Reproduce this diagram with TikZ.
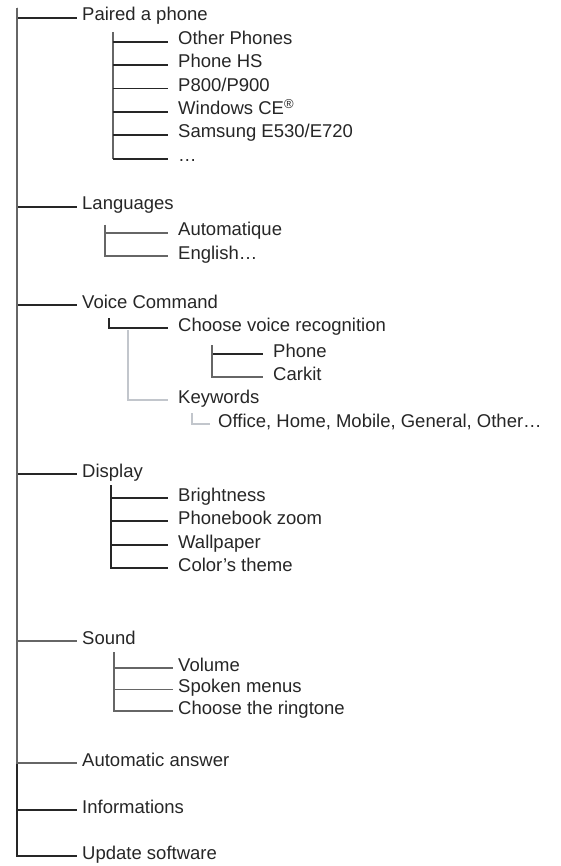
\documentclass[tikz,border=0pt]{standalone}
\usepackage{fontspec}
\setmainfont{Liberation Sans}
\definecolor{pale}{HTML}{C2C6CC}
\tikzset{
  item/.style={anchor=base west, inner xsep=10pt, inner ysep=0pt,
    text height=10pt, text depth=4pt, text=black!85,
    font=\fontsize{18.5}{20}\selectfont},
  head/.style={item, inner xsep=5pt},
  near/.style={item, inner xsep=5pt},
  link/.style={draw=black!85, line width=1.1pt},
  linkgrey/.style={draw=black!60, line width=1.1pt},
  linkpale/.style={draw=pale, line width=1.6pt}
}
\begin{document}
\begin{tikzpicture}[x=1pt,y=-1pt]
    \useasboundingbox (0,0) rectangle (560,866);
    % main menu
    \coordinate (root) at (17,8);
    \node[head] (paired) at (77,21) {Paired a phone};
    \node[head] (lang) at (77,210) {Languages};
    \node[head] (voice) at (77,308) {Voice Command};
    \node[head] (disp) at (77,477) {Display};
    \node[head] (sound) at (77,644) {Sound};
    \node[head] (autoans) at (77,766) {Automatic answer};
    \node[head] (info) at (77,813) {Informations};
    \node[head] (upd) at (77,859) {Update software};
    % paired a phone
    \coordinate (pairedsub) at (113,32);
    \node[item] (other) at (168,45) {Other Phones};
    \node[item] (phs) at (168,68) {Phone HS};
    \node[item] (p800) at (168,91.5) {P800/P900};
    \node[item] (wince) at (168,115) {Windows CE\textsuperscript{®}};
    \node[item] (samsung) at (168,138) {Samsung E530/E720};
    \node[item] (more) at (168,162) {…};
    % languages
    \coordinate (langsub) at (105,225);
    \node[item] (autom) at (168,236) {Automatique};
    \node[item] (english) at (168,259) {English…};
    % voice command
    \coordinate (choosesub) at (109,318);
    \node[item] (choose) at (168,331) {Choose voice recognition};
    \coordinate (phonesub) at (212,345);
    \node[item] (phone) at (263,357) {Phone};
    \node[item] (carkit) at (263,380) {Carkit};
    \coordinate (keysub) at (128,330);
    \node[item] (keyw) at (168,403) {Keywords};
    \coordinate (officesub) at (192,413);
    \node[item, inner xsep=8pt] (office) at (210,427) {Office, Home, Mobile, General, Other…};
    % display
    \coordinate (dispsub) at (111,485);
    \node[item] (bright) at (168,501) {Brightness};
    \node[item] (pbzoom) at (168,524) {Phonebook zoom};
    \node[item] (wallp) at (168,548) {Wallpaper};
    \node[item] (theme) at (168,571) {Color’s theme};
    % sound
    \coordinate (soundsub) at (114,652);
    \node[near] (volume) at (173,671) {Volume};
    \node[near] (spoken) at (173,692.5) {Spoken menus};
    \node[near] (ring) at (173,714) {Choose the ringtone};

    % connectors
    \draw[link] (root) |- (upd.west);
    \foreach \n in {paired,lang,voice,disp,info,upd}
        \draw[link] (root) |- (\n.west);
    \foreach \n in {sound,autoans}
        \draw[linkgrey] (root) |- (\n.west);
    \draw[linkgrey] (pairedsub) -- (pairedsub |- more.west);
    \foreach \n in {other,phs,p800,wince,samsung,more}
        \draw[link] (pairedsub |- \n.west) -- (\n.west);
    \foreach \n in {autom,english}
        \draw[linkgrey] (langsub) |- (\n.west);
    \draw[link] (choosesub) |- (choose.west);
    \draw[link] (phonesub) |- (phone.west);
    \draw[linkgrey] (phonesub) |- (carkit.west);
    \draw[linkpale] (keysub) |- (keyw.west);
    \draw[linkpale] (officesub) |- (office.west);
    \foreach \n in {bright,pbzoom,wallp,theme}
        \draw[link] (dispsub) |- (\n.west);
    \foreach \n in {volume,spoken,ring}
        \draw[linkgrey] (soundsub) |- (\n.west);
\end{tikzpicture}
\end{document}
